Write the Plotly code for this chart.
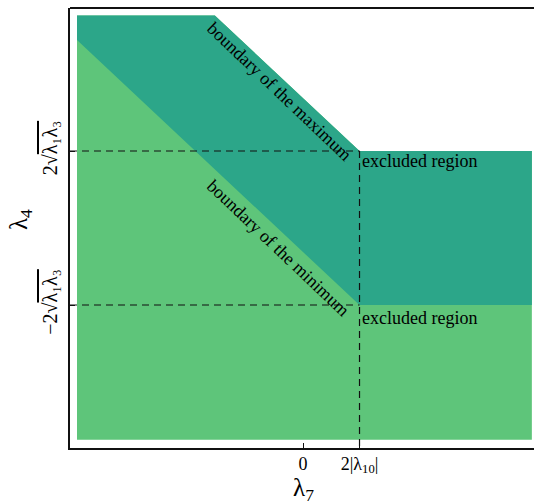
import plotly.graph_objects as go

# ---- data (axis units: lambda7 in units of 2|lambda10|, lambda4 in units of 2*sqrt(l1 l3)) ----
x_ticks = [0, 1]
x_ticklabels = ["0", "2|λ<sub>10</sub>|"]
y_ticks = [-1, 1]
y_ticklabels = ["−2√<span style='text-decoration:overline'>λ₁λ₃</span>",
                "2√<span style='text-decoration:overline'>λ₁λ₃</span>"]

# boundary of the maximum (upper edge of dark region)
max_x = [-4.0, -1.56, 1.0, 4.05]
max_y = [2.76, 2.76, 1.0, 1.0]
# boundary of the minimum (upper edge of light region below dark)
min_x = [-4.0, 1.0, 4.05]
min_y = [2.44, -1.0, -1.0]
y_floor = -2.75

x_range = [-4.124, 4.088]
y_range = [-2.857, 2.857]

dark = "#2ca689"
light = "#5ec57a"
font_fam = "Liberation Serif"

fig = go.Figure()

# light region: everything below the maximum boundary
fig.add_trace(go.Scatter(
    x=max_x + [max_x[-1], max_x[0]],
    y=max_y + [y_floor, y_floor],
    fill="toself", fillcolor=light, line=dict(width=0), mode="lines",
    hoverinfo="skip", showlegend=False))
# dark region: between the maximum and minimum boundaries
fig.add_trace(go.Scatter(
    x=max_x + min_x[::-1],
    y=max_y + min_y[::-1],
    fill="toself", fillcolor=dark, line=dict(width=0), mode="lines",
    hoverinfo="skip", showlegend=False))

# dashed guide lines
dash_style = dict(color="#111", width=1.2, dash="7px,5px")
for yv in y_ticks:
    fig.add_trace(go.Scatter(x=[x_range[0], x_ticks[1]], y=[yv, yv], mode="lines",
                             line=dash_style, hoverinfo="skip", showlegend=False))
fig.add_trace(go.Scatter(x=[x_ticks[1], x_ticks[1]], y=[y_ticks[1], y_range[0]], mode="lines",
                         line=dash_style, hoverinfo="skip", showlegend=False))

# annotations
ann_font = dict(family=font_fam, size=18, color="black")
fig.add_annotation(x=-0.425, y=1.78, text="boundary of the maximum", textangle=43.6,
                   showarrow=False, font=ann_font)
fig.add_annotation(x=-0.44, y=-0.26, text="boundary of the minimum", textangle=43.6,
                   showarrow=False, font=ann_font)
fig.add_annotation(x=x_ticks[1], y=0.87, text="excluded region", xanchor="left",
                   yanchor="middle", showarrow=False, font=ann_font)
fig.add_annotation(x=x_ticks[1], y=-1.17, text="excluded region", xanchor="left",
                   yanchor="middle", showarrow=False, font=ann_font)

# axis titles
fig.add_annotation(x=0, xref="x", y=0, yref="paper", yshift=-41, text="λ<sub>7</sub>",
                   showarrow=False, font=dict(family=font_fam, size=25, color="black"),
                   yanchor="middle", xanchor="center")
fig.add_annotation(x=0, xref="paper", xshift=-50, y=0.5, yref="paper", yshift=8,
                   text="λ<sub>4</sub>", textangle=-90,
                   showarrow=False, font=dict(family=font_fam, size=25, color="black"),
                   yanchor="middle", xanchor="center")

# top spine
fig.add_shape(type="line", xref="paper", yref="paper", x0=0, x1=1, y0=1, y1=1,
              line=dict(color="#111", width=2))

fig.update_layout(
    width=534, height=503,
    margin=dict(l=70, r=0, t=8, b=55),
    plot_bgcolor="white", paper_bgcolor="white",
    font=dict(family=font_fam, color="black"),
    xaxis=dict(range=x_range, tickvals=x_ticks, ticktext=x_ticklabels, automargin=False,
               ticks="inside", ticklen=5, tickcolor="#111", showgrid=False, zeroline=False,
               showline=True, linecolor="#111", linewidth=2, ticklabelstandoff=-2,
               tickfont=dict(size=18, family=font_fam, color="black")),
    yaxis=dict(range=y_range, tickvals=y_ticks, ticktext=y_ticklabels, tickangle=-90,
               automargin=False,
               ticks="inside", ticklen=5, tickcolor="#111", showgrid=False, zeroline=False,
               showline=True, linecolor="#111", linewidth=2, ticklabelstandoff=3,
               tickfont=dict(size=20, family=font_fam, color="black")),
)

fig.write_html("out.html", config={"displayModeBar": False},
               post_script="document.body.style.margin='0';")
